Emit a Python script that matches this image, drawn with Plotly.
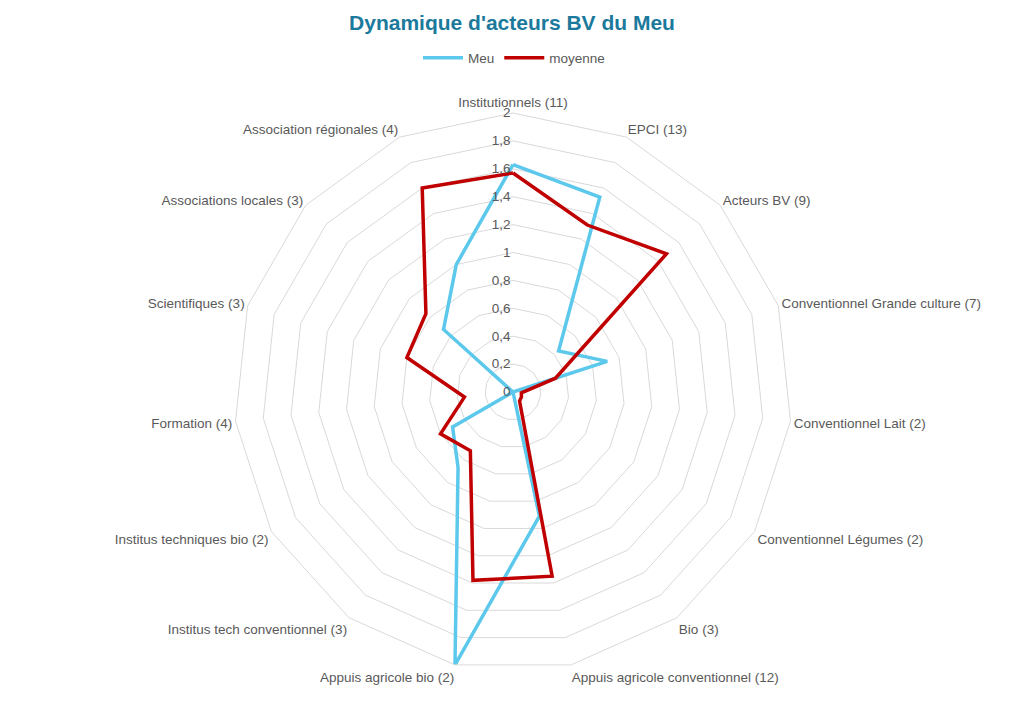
import plotly.graph_objects as go

categories = [
    "Institutionnels (11)", "EPCI (13)", "Acteurs BV (9)",
    "Conventionnel Grande culture (7)", "Conventionnel Lait (2)",
    "Conventionnel Légumes (2)", "Bio (3)", "Appuis agricole conventionnel (12)",
    "Appuis agricole bio (2)", "Institus tech conventionnel (3)",
    "Institus techniques bio (2)", "Formation (4)", "Scientifiques (3)",
    "Associations locales (3)", "Association régionales (4)",
]
meu = [1.63, 1.53, 0.44, 0.71, 0.0, 0.0, 0.0, 0.91, 2.0, 0.67, 0.50, 0.0, 0.0, 0.67, 1.0]
moyenne = [1.57, 1.31, 1.48, 0.32, 0.06, 0.07, 0.08, 1.35, 1.38, 0.52, 0.60, 0.35, 0.80, 0.84, 1.60]
radial_ticks = [0, 0.2, 0.4, 0.6, 0.8, 1.0, 1.2, 1.4, 1.6, 1.8, 2.0]

fig = go.Figure()
fig.add_trace(go.Scatterpolar(
    r=meu + meu[:1], theta=categories + categories[:1], mode="lines",
    name="Meu", line=dict(color="#5BC8EC", width=3.5),
))
fig.add_trace(go.Scatterpolar(
    r=moyenne + moyenne[:1], theta=categories + categories[:1], mode="lines",
    name="moyenne", line=dict(color="#C00000", width=3.5),
))

W, H = 1024, 713
OFF = 8  # page offset of the figure in the browser
cx, cy, R = 513 - OFF, 392 - OFF, 279
fig.update_layout(
    width=W, height=H,
    paper_bgcolor="white", plot_bgcolor="white",
    separators=", ",
    font=dict(family="Liberation Sans, Arial, sans-serif", size=13.5, color="#595959"),
    margin=dict(l=0, r=0, t=0, b=0),
    title=dict(text="<b>Dynamique d'acteurs BV du Meu</b>", x=(512 - OFF) / W, xanchor="center",
               y=1 - (23 - OFF) / H, yanchor="middle",
               font=dict(size=21, color="#1B7A9C", family="Liberation Sans, Arial, sans-serif")),
    legend=dict(orientation="h", x=(514 - OFF) / W, xanchor="center", y=1 - (58 - OFF) / H,
                yanchor="middle", font=dict(size=13.5, color="#595959"), itemwidth=40),
    polar=dict(
        domain=dict(x=[(cx - R) / W, (cx + R) / W], y=[1 - (cy + R) / H, 1 - (cy - R) / H]),
        gridshape="linear",
        bgcolor="white",
        angularaxis=dict(direction="clockwise", rotation=90, showgrid=False,
                         showline=True, linecolor="#D9D9D9", linewidth=1,
                         ticks="", tickfont=dict(size=13.5, color="#595959")),
        radialaxis=dict(range=[0, 2], tickvals=radial_ticks, showline=False,
                        gridcolor="#D9D9D9", gridwidth=1, angle=90, ticks="",
                        tickangle=90, side="counterclockwise",
                        tickfont=dict(size=13.5, color="#595959")),
    ),
)
fig.write_html("out.html")
